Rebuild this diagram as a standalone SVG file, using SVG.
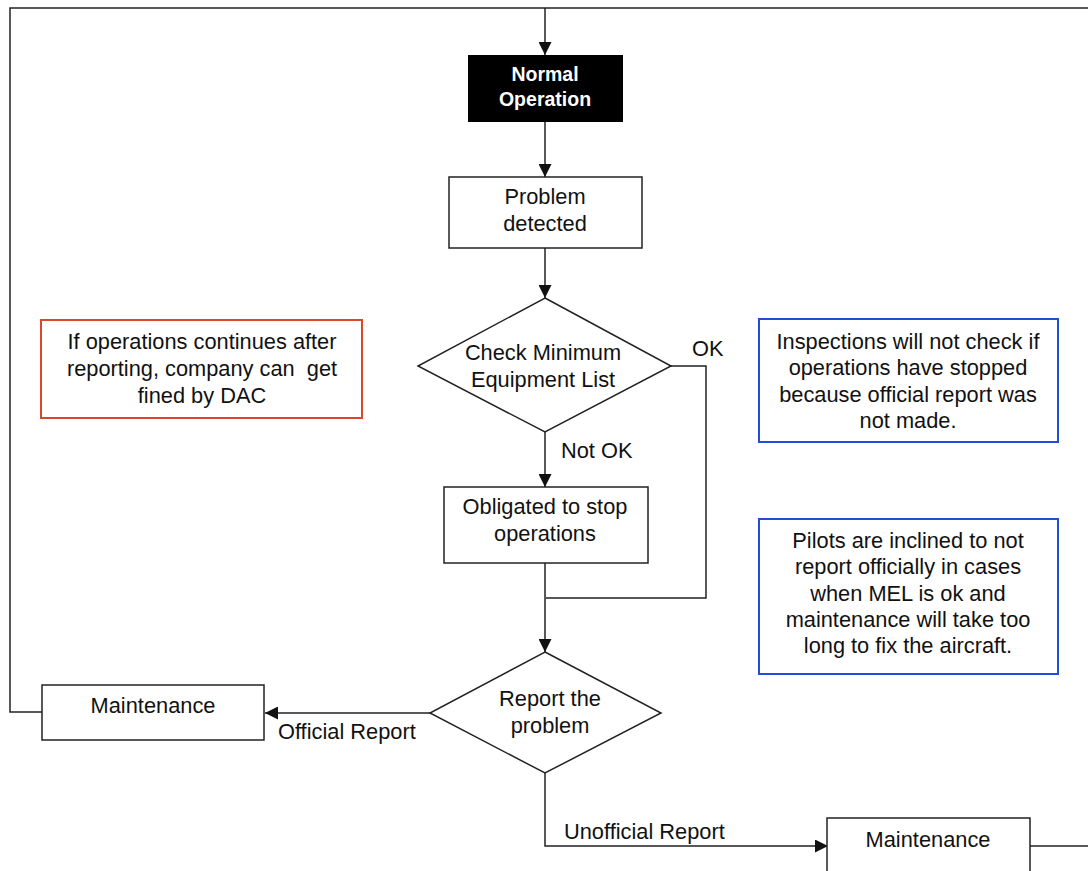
<svg xmlns="http://www.w3.org/2000/svg" width="1088" height="871" viewBox="0 0 1088 871">
<style>
text{font-family:"Liberation Sans",Arial,sans-serif;font-size:21.8px;fill:#111;text-anchor:middle}
.box{fill:#fff;stroke:#222;stroke-width:1.5}
.c{fill:none;stroke:#222;stroke-width:1.5}
.lbl{text-anchor:start}
</style>
<defs>
<marker id="ah" viewBox="0 0 10 10" refX="10" refY="5" markerWidth="13" markerHeight="13" markerUnits="userSpaceOnUse" orient="auto">
<path d="M0,0 L10,5 L0,10 z" fill="#111"/>
</marker>
</defs>
<rect width="1088" height="871" fill="#fff"/>
<g id="connectors">
<path class="c" d="M42,712 H10 V8 H1088"/>
<path class="c" d="M545,8 V55" marker-end="url(#ah)"/>
<path class="c" d="M545,122 V177" marker-end="url(#ah)"/>
<path class="c" d="M545,248 V298" marker-end="url(#ah)"/>
<path class="c" d="M545,432 V487" marker-end="url(#ah)"/>
<path class="c" d="M671,366 H706 V598 H546"/>
<path class="c" d="M545,563 V652" marker-end="url(#ah)"/>
<path class="c" d="M430,713 H265" marker-end="url(#ah)"/>
<path class="c" d="M545,773 V846 H828" marker-end="url(#ah)"/>
<path class="c" d="M1030,846 H1088"/>
<text class="lbl" x="692" y="356">OK</text>
<text class="lbl" x="561" y="458">Not OK</text>
<text class="lbl" x="278" y="739">Official Report</text>
<text class="lbl" x="564" y="839">Unofficial Report</text>
</g>
<g id="normal">
<rect x="468" y="55" width="155" height="67" fill="#000"/>
<text x="545" y="81" style="fill:#fff;font-weight:bold;font-size:19.5px">Normal</text>
<text x="545" y="106" style="fill:#fff;font-weight:bold;font-size:19.5px">Operation</text>
</g>
<g id="problem">
<rect class="box" x="449" y="177" width="193" height="71"/>
<text x="545" y="204">Problem</text>
<text x="545" y="231">detected</text>
</g>
<g id="check">
<polygon class="box" points="545,298 671,366 545,432 418,366"/>
<text x="543" y="360">Check Minimum</text>
<text x="543" y="387">Equipment List</text>
</g>
<g id="stop">
<rect class="box" x="444" y="487" width="204" height="76"/>
<text x="545" y="514">Obligated to stop</text>
<text x="545" y="541">operations</text>
</g>
<g id="report">
<polygon class="box" points="545,652 661,713 545,773 430,713"/>
<text x="550" y="706">Report the</text>
<text x="550" y="733">problem</text>
</g>
<g id="maint-left">
<rect class="box" x="42" y="685" width="222" height="55"/>
<text x="153" y="713">Maintenance</text>
</g>
<g id="maint-right">
<rect class="box" x="827" y="818" width="203" height="60"/>
<text x="928" y="847">Maintenance</text>
</g>
<g id="note-red">
<rect x="41" y="320" width="321" height="98" fill="#fff" stroke="#d9482b" stroke-width="2"/>
<text x="202" y="349">If operations continues after</text>
<text x="202" y="376" style="white-space:pre">reporting, company can  get</text>
<text x="202" y="403">fined by DAC</text>
</g>
<g id="note-blue1">
<rect x="759" y="319" width="299" height="123" fill="#fff" stroke="#1f4fd6" stroke-width="2"/>
<text x="908" y="349">Inspections will not check if</text>
<text x="908" y="375">operations have stopped</text>
<text x="908" y="402">because official report was</text>
<text x="908" y="428">not made.</text>
</g>
<g id="note-blue2">
<rect x="759" y="519" width="299" height="155" fill="#fff" stroke="#1f4fd6" stroke-width="2"/>
<text x="908" y="548">Pilots are inclined to not</text>
<text x="908" y="574">report officially in cases</text>
<text x="908" y="601">when MEL is ok and</text>
<text x="908" y="627">maintenance will take too</text>
<text x="908" y="653">long to fix the aircraft.</text>
</g>
</svg>
